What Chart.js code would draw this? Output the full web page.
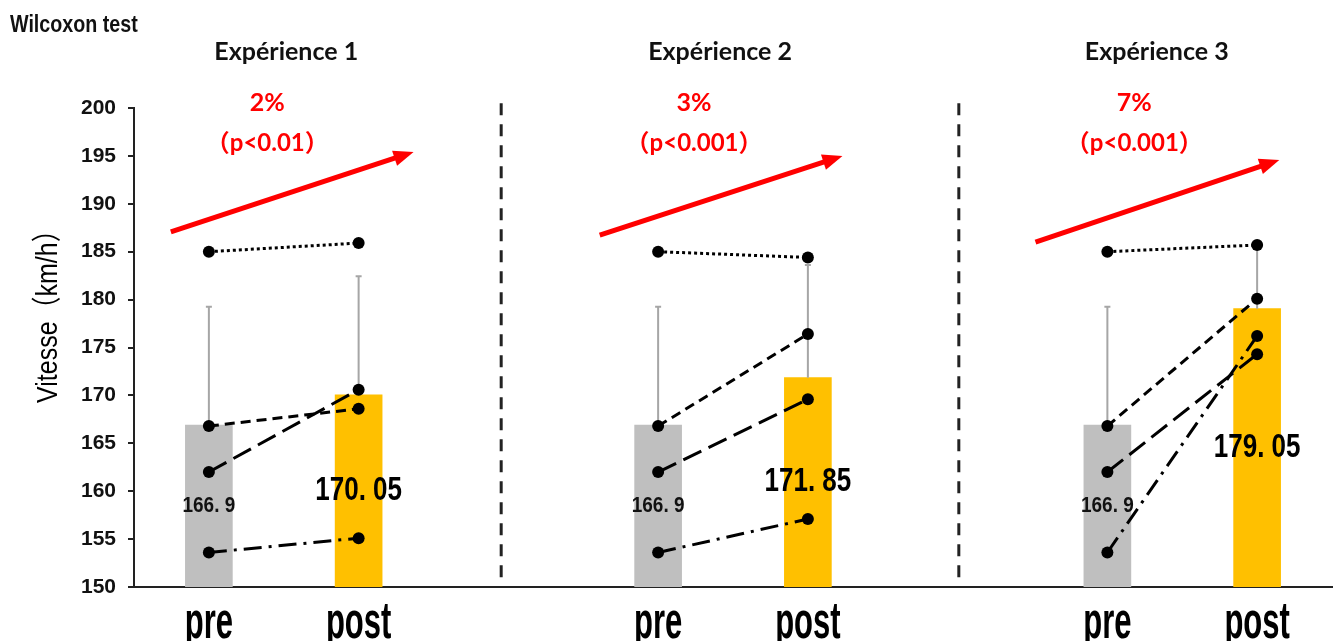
<!DOCTYPE html>
<html lang="fr">

<head>
    <meta charset="UTF-8">
    <meta name="viewport" content="width=device-width, initial-scale=1.0">
    <title>Wilcoxon test - Vitesse pre / post</title>
    <script src="https://cdn.jsdelivr.net/npm/chart.js"></script>
    <style>
        html,
        body {
            margin: 0;
            padding: 0;
            background: #fff;
        }
    </style>
</head>

<body>
    <canvas id="speedChart" width="1338" height="641"></canvas>

    <script>
        // Categories (empty slots separate the three experiments)
        const slots = ['pre', 'post', '', 'pre', 'post', '', 'pre', 'post'];
        const experiments = ['Expérience 1', 'Expérience 2', 'Expérience 3'];

        // Group means and their (upper) standard deviation
        const means = [166.9, 170.05, null, 166.9, 171.85, null, 166.9, 179.05];
        const sd = [12.35, 12.4, null, 12.35, 11.75, null, 12.35, 6.55];

        // Individual subjects
        const subjectA = [185.0, 185.9, null, 185.0, 184.4, null, 185.0, 185.7];
        const subjectB = [166.8, 168.6, null, 166.8, 176.4, null, 166.8, 180.1];
        const subjectC = [162.0, 170.6, null, 162.0, 169.6, null, 162.0, 174.3];
        const subjectD = [153.6, 155.1, null, 153.6, 157.1, null, 153.6, 176.2];

        // Annotations
        const gains = ['2%', '3%', '7%'];
        const pValues = ['（p<0.01）', '（p<0.001）', '（p<0.001）'];

        // Placement of the decorations, in axis units (category index, km/h)
        const titleX = [0.517, 3.414, 6.33];
        const noteX = [0.39, 3.24, 6.18];
        const arrowFrom = [[-0.254, 187.06], [2.61, 186.74], [5.52, 186.01]];
        const arrowTo = [[1.367, 195.41], [4.231, 194.99], [7.148, 194.57]];
        const separatorX = [1.952, 5.008];

        const SANS = "'Liberation Sans', Arial, 'Noto Sans CJK JP', sans-serif";
        const LATO = "Lato, 'Noto Sans CJK JP', sans-serif";

        // text drawn with a horizontal / vertical stretch (source figure is squeezed)
        function stretchText(ctx, text, x, y, font, sx, sy, color, align, baseline) {
            ctx.save();
            ctx.translate(x, y);
            ctx.scale(sx, sy);
            ctx.font = font;
            ctx.fillStyle = color;
            ctx.textAlign = align || 'center';
            ctx.textBaseline = baseline || 'middle';
            ctx.fillText(text, 0, 0);
            ctx.restore();
        }

        function fmt(v) {
            return String(v).replace('.', '. ');
        }

        const decorations = {
            id: 'decorations',
            beforeDatasetsDraw(chart) {
                const { ctx, scales: { x, y } } = chart;
                ctx.save();
                ctx.strokeStyle = '#222';
                ctx.lineWidth = 3;
                ctx.setLineDash([12, 9]);
                separatorX.forEach(v => {
                    const px = x.getPixelForValue(v);
                    ctx.beginPath();
                    ctx.moveTo(px, y.getPixelForValue(200.5));
                    ctx.lineTo(px, y.getPixelForValue(150));
                    ctx.stroke();
                });
                ctx.restore();
            },
            afterDatasetDraw(chart, args) {
                if (args.index !== 0) return;
                // upper error bars
                const { ctx, scales: { x, y } } = chart;
                ctx.save();
                ctx.strokeStyle = '#A6A6A6';
                ctx.lineWidth = 2;
                means.forEach((m, i) => {
                    if (m === null) return;
                    const px = x.getPixelForValue(i);
                    const top = y.getPixelForValue(m + sd[i]);
                    ctx.beginPath();
                    ctx.moveTo(px, y.getPixelForValue(m));
                    ctx.lineTo(px, top);
                    ctx.moveTo(px - 3, top);
                    ctx.lineTo(px + 3, top);
                    ctx.stroke();
                });
                ctx.restore();
            },
            afterDatasetsDraw(chart) {
                // value labels in the middle of each bar
                const { ctx, scales: { x, y } } = chart;
                means.forEach((m, i) => {
                    if (m === null) return;
                    const px = x.getPixelForValue(i);
                    const py = (y.getPixelForValue(m) + y.getPixelForValue(150)) / 2;
                    if (slots[i] === 'pre') {
                        stretchText(ctx, fmt(m), px, py, 'bold 19px ' + SANS, 1, 1.2, '#111');
                    } else {
                        stretchText(ctx, fmt(m), px, py, 'bold 26px ' + SANS, 1, 1.25, '#000');
                    }
                });
            },
            afterDraw(chart) {
                const { ctx, scales: { x, y } } = chart;

                // category labels
                slots.forEach((s, i) => {
                    if (!s) return;
                    stretchText(ctx, s, x.getPixelForValue(i), 638, 'bold 31px ' + SANS, 1, 1.7, '#000', 'center', 'alphabetic');
                });

                // y axis title
                ctx.save();
                ctx.translate(49, y.getPixelForValue(178.9));
                ctx.rotate(-Math.PI / 2);
                ctx.scale(1, 1.2);
                ctx.font = '25px ' + SANS;
                ctx.fillStyle = '#000';
                ctx.textAlign = 'center';
                ctx.textBaseline = 'middle';
                ctx.fillText('Vitesse（km/h）', 0, 0);
                ctx.restore();

                stretchText(ctx, 'Wilcoxon test', 10, 25, 'bold 24px ' + SANS, 0.82, 1, '#111', 'left', 'middle');

                experiments.forEach((t, i) => {
                    stretchText(ctx, t, x.getPixelForValue(titleX[i]), 52, 'bold 25px ' + LATO, 1, 1, '#111');
                    const nx = x.getPixelForValue(noteX[i]);
                    stretchText(ctx, gains[i], nx, 103, 'bold 25px ' + LATO, 1, 1, '#FF0000');
                    stretchText(ctx, pValues[i], nx, 143, 'bold 24px ' + LATO, 1, 1, '#FF0000');

                    // red arrow
                    const x0 = x.getPixelForValue(arrowFrom[i][0]);
                    const y0 = y.getPixelForValue(arrowFrom[i][1]);
                    const x1 = x.getPixelForValue(arrowTo[i][0]);
                    const y1 = y.getPixelForValue(arrowTo[i][1]);
                    const ang = Math.atan2(y1 - y0, x1 - x0);
                    const head = 20;
                    ctx.save();
                    ctx.strokeStyle = '#FF0000';
                    ctx.fillStyle = '#FF0000';
                    ctx.lineWidth = 5;
                    ctx.beginPath();
                    ctx.moveTo(x0, y0);
                    ctx.lineTo(x1 - Math.cos(ang) * head * 0.8, y1 - Math.sin(ang) * head * 0.8);
                    ctx.stroke();
                    ctx.beginPath();
                    ctx.moveTo(x1, y1);
                    ctx.lineTo(x1 - head * Math.cos(ang) + 8 * Math.sin(ang), y1 - head * Math.sin(ang) - 8 * Math.cos(ang));
                    ctx.lineTo(x1 - head * Math.cos(ang) - 8 * Math.sin(ang), y1 - head * Math.sin(ang) + 8 * Math.cos(ang));
                    ctx.closePath();
                    ctx.fill();
                    ctx.restore();
                });
            }
        };

        function subjectLine(data, dash) {
            return {
                type: 'line',
                data: data,
                order: 1,
                borderColor: '#000',
                borderWidth: 3,
                borderDash: dash,
                pointRadius: 6,
                pointBackgroundColor: '#000',
                pointBorderWidth: 0,
                spanGaps: false,
                fill: false
            };
        }

        const ctx = document.getElementById('speedChart').getContext('2d');
        const speedChart = new Chart(ctx, {
            type: 'bar',
            data: {
                labels: slots,
                datasets: [
                    {
                        data: means,
                        order: 2,
                        backgroundColor: slots.map(s => s === 'pre' ? '#BFBFBF' : '#FFC000'),
                        barThickness: 47
                    },
                    subjectLine(subjectA, [3, 3]),
                    subjectLine(subjectB, [10, 6]),
                    subjectLine(subjectC, [20, 8]),
                    subjectLine(subjectD, [18, 7, 3, 7])
                ]
            },
            plugins: [decorations],
            options: {
                responsive: false,
                animation: false,
                layout: { padding: { top: 108, left: 0, right: 0, bottom: 0 } },
                plugins: {
                    legend: { display: false },
                    tooltip: { enabled: false }
                },
                scales: {
                    x: {
                        offset: true,
                        grid: { display: false },
                        border: { display: true, color: '#222', width: 2 },
                        ticks: { display: false },
                        afterFit: s => { s.height = 54; }
                    },
                    y: {
                        min: 150,
                        max: 200,
                        grid: { drawOnChartArea: false, drawTicks: true, tickLength: 6, color: '#222', lineWidth: 2 },
                        border: { display: true, color: '#222', width: 2 },
                        ticks: {
                            stepSize: 5,
                            padding: 12,
                            color: '#111',
                            font: { family: SANS, size: 21, weight: 'bold' }
                        },
                        afterFit: s => { s.width = 134; }
                    }
                }
            }
        });
    </script>
</body>

</html>
